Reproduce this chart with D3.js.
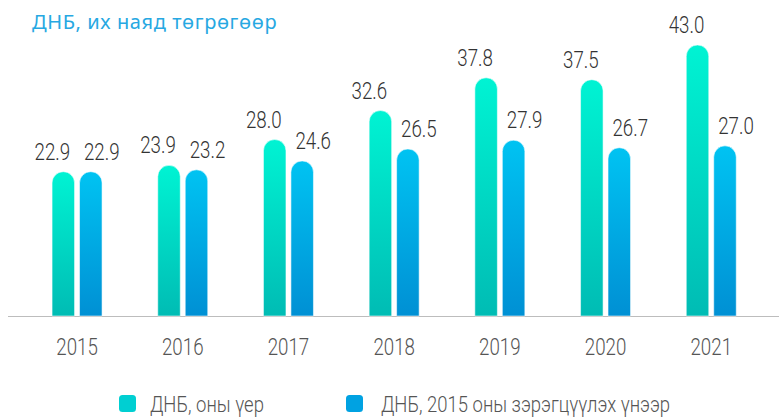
<!DOCTYPE html>
<html>
<head>
<meta charset="utf-8">
<script src="https://cdn.jsdelivr.net/npm/d3@7"></script>
<style>
  body { margin: 0; background: #fff; }
  svg { display: block; }
</style>
</head>
<body>
<div id="chart"></div>
<script>
// data
var years = ["2015", "2016", "2017", "2018", "2019", "2020", "2021"];
var nominal = [22.9, 23.9, 28.0, 32.6, 37.8, 37.5, 43.0];
var real2015 = [22.9, 23.2, 24.6, 26.5, 27.9, 26.7, 27.0];
var seriesNames = ["ДНБ, оны үер", "ДНБ, 2015 оны зэрэгцүүлэх үнээр"];
var title = "ДНБ, их наяд төгрөгөөр";

var width = 779, height = 417;
var baseY = 316, topY = 45;
var squeeze = 0.78; // condensed look for the number font

var svg = d3.select("#chart")
    .append("svg")
    .attr("width", width)
    .attr("height", height);

// gradients
var defs = svg.append("defs");
var grads = [
    {id: "gGreen", top: "#00f3d3", bottom: "#00bcb4"},
    {id: "gBlue", top: "#00c3f2", bottom: "#0090d4"}
];
grads.forEach(function(g){
    var lg = defs.append("linearGradient")
        .attr("id", g.id)
        .attr("x1", 0).attr("y1", 0).attr("x2", 0).attr("y2", 1);
    lg.append("stop").attr("offset", "0%").attr("stop-color", g.top);
    lg.append("stop").attr("offset", "100%").attr("stop-color", g.bottom);
});

// scales
var x = d3.scaleBand()
    .domain(years)
    .range([24.2, 764.1])
    .padding(0);

var xs = d3.scaleBand()
    .domain([0, 1])
    .range([-25, 25])
    .paddingInner(0.18);

var y = d3.scaleLinear()
    .domain([0, 43])
    .range([baseY, topY]);

// title
svg.append("text")
    .attr("x", 32)
    .attr("y", 29)
    .attr("font-family", "'Noto Sans', sans-serif")
    .attr("font-size", 20)
    .attr("letter-spacing", 0.6)
    .attr("fill", "#27a8e2")
    .text(title);

// axis line
svg.append("line")
    .attr("x1", 8).attr("x2", width)
    .attr("y1", baseY + 0.5).attr("y2", baseY + 0.5)
    .attr("stroke", "#bdbdbd")
    .attr("stroke-width", 1.2);

// rounded-top bar path
function barPath(x0, w, yTop, yBase){
    var r = w / 2;
    return "M" + x0 + "," + yBase +
        "L" + x0 + "," + (yTop + r) +
        "A" + r + "," + r + " 0 0 1 " + (x0 + w) + "," + (yTop + r) +
        "L" + (x0 + w) + "," + yBase + "Z";
}

var series = [nominal, real2015];
var fills = ["url(#gGreen)", "url(#gBlue)"];
var labelShift = [-11, 11];

series.forEach(function(vals, s){
    var g = svg.append("g");
    g.selectAll("path")
        .data(vals)
        .enter().append("path")
        .attr("d", function(d, i){
            var cx = x(years[i]) + x.bandwidth() / 2;
            return barPath(cx + xs(s), xs.bandwidth(), y(d), baseY);
        })
        .attr("fill", fills[s])
        .attr("stroke", "#ffffff")
        .attr("stroke-opacity", 0.55)
        .attr("stroke-width", 1);

    g.selectAll("text")
        .data(vals)
        .enter().append("text")
        .attr("transform", function(d, i){
            var cx = x(years[i]) + x.bandwidth() / 2 + xs(s) + xs.bandwidth() / 2 + labelShift[s];
            return "translate(" + cx + "," + (y(d) - 12) + ") scale(" + squeeze + ",1)";
        })
        .attr("text-anchor", "middle")
        .attr("font-family", "Roboto, sans-serif")
        .attr("font-weight", 300)
        .attr("font-size", 24)
        .attr("fill", "#333")
        .text(function(d){ return d.toFixed(1); });
});

// year labels
svg.append("g").selectAll("text")
    .data(years)
    .enter().append("text")
    .attr("transform", function(d){
        return "translate(" + (x(d) + x.bandwidth() / 2) + "," + 355 + ") scale(" + squeeze + ",1)";
    })
    .attr("text-anchor", "middle")
    .attr("font-family", "Roboto, sans-serif")
    .attr("font-weight", 300)
    .attr("font-size", 24)
    .attr("fill", "#555")
    .text(function(d){ return d; });

// legend
var legendX = [119, 346];
var legendColors = ["#00cfd2", "#00a2e2"];
var legend = svg.append("g");
legend.selectAll("rect")
    .data(seriesNames)
    .enter().append("rect")
    .attr("x", function(d, i){ return legendX[i]; })
    .attr("y", 395)
    .attr("width", 17)
    .attr("height", 17)
    .attr("rx", 3.5)
    .attr("fill", function(d, i){ return legendColors[i]; });

legend.selectAll("text")
    .data(seriesNames)
    .enter().append("text")
    .attr("transform", function(d, i){
        return "translate(" + (legendX[i] + [31, 35][i]) + ",412) scale(0.84,1)";
    })
    .attr("font-family", "Roboto, sans-serif")
    .attr("font-weight", 300)
    .attr("font-size", 22)
    .attr("fill", "#555")
    .text(function(d){ return d; });
</script>
</body>
</html>
